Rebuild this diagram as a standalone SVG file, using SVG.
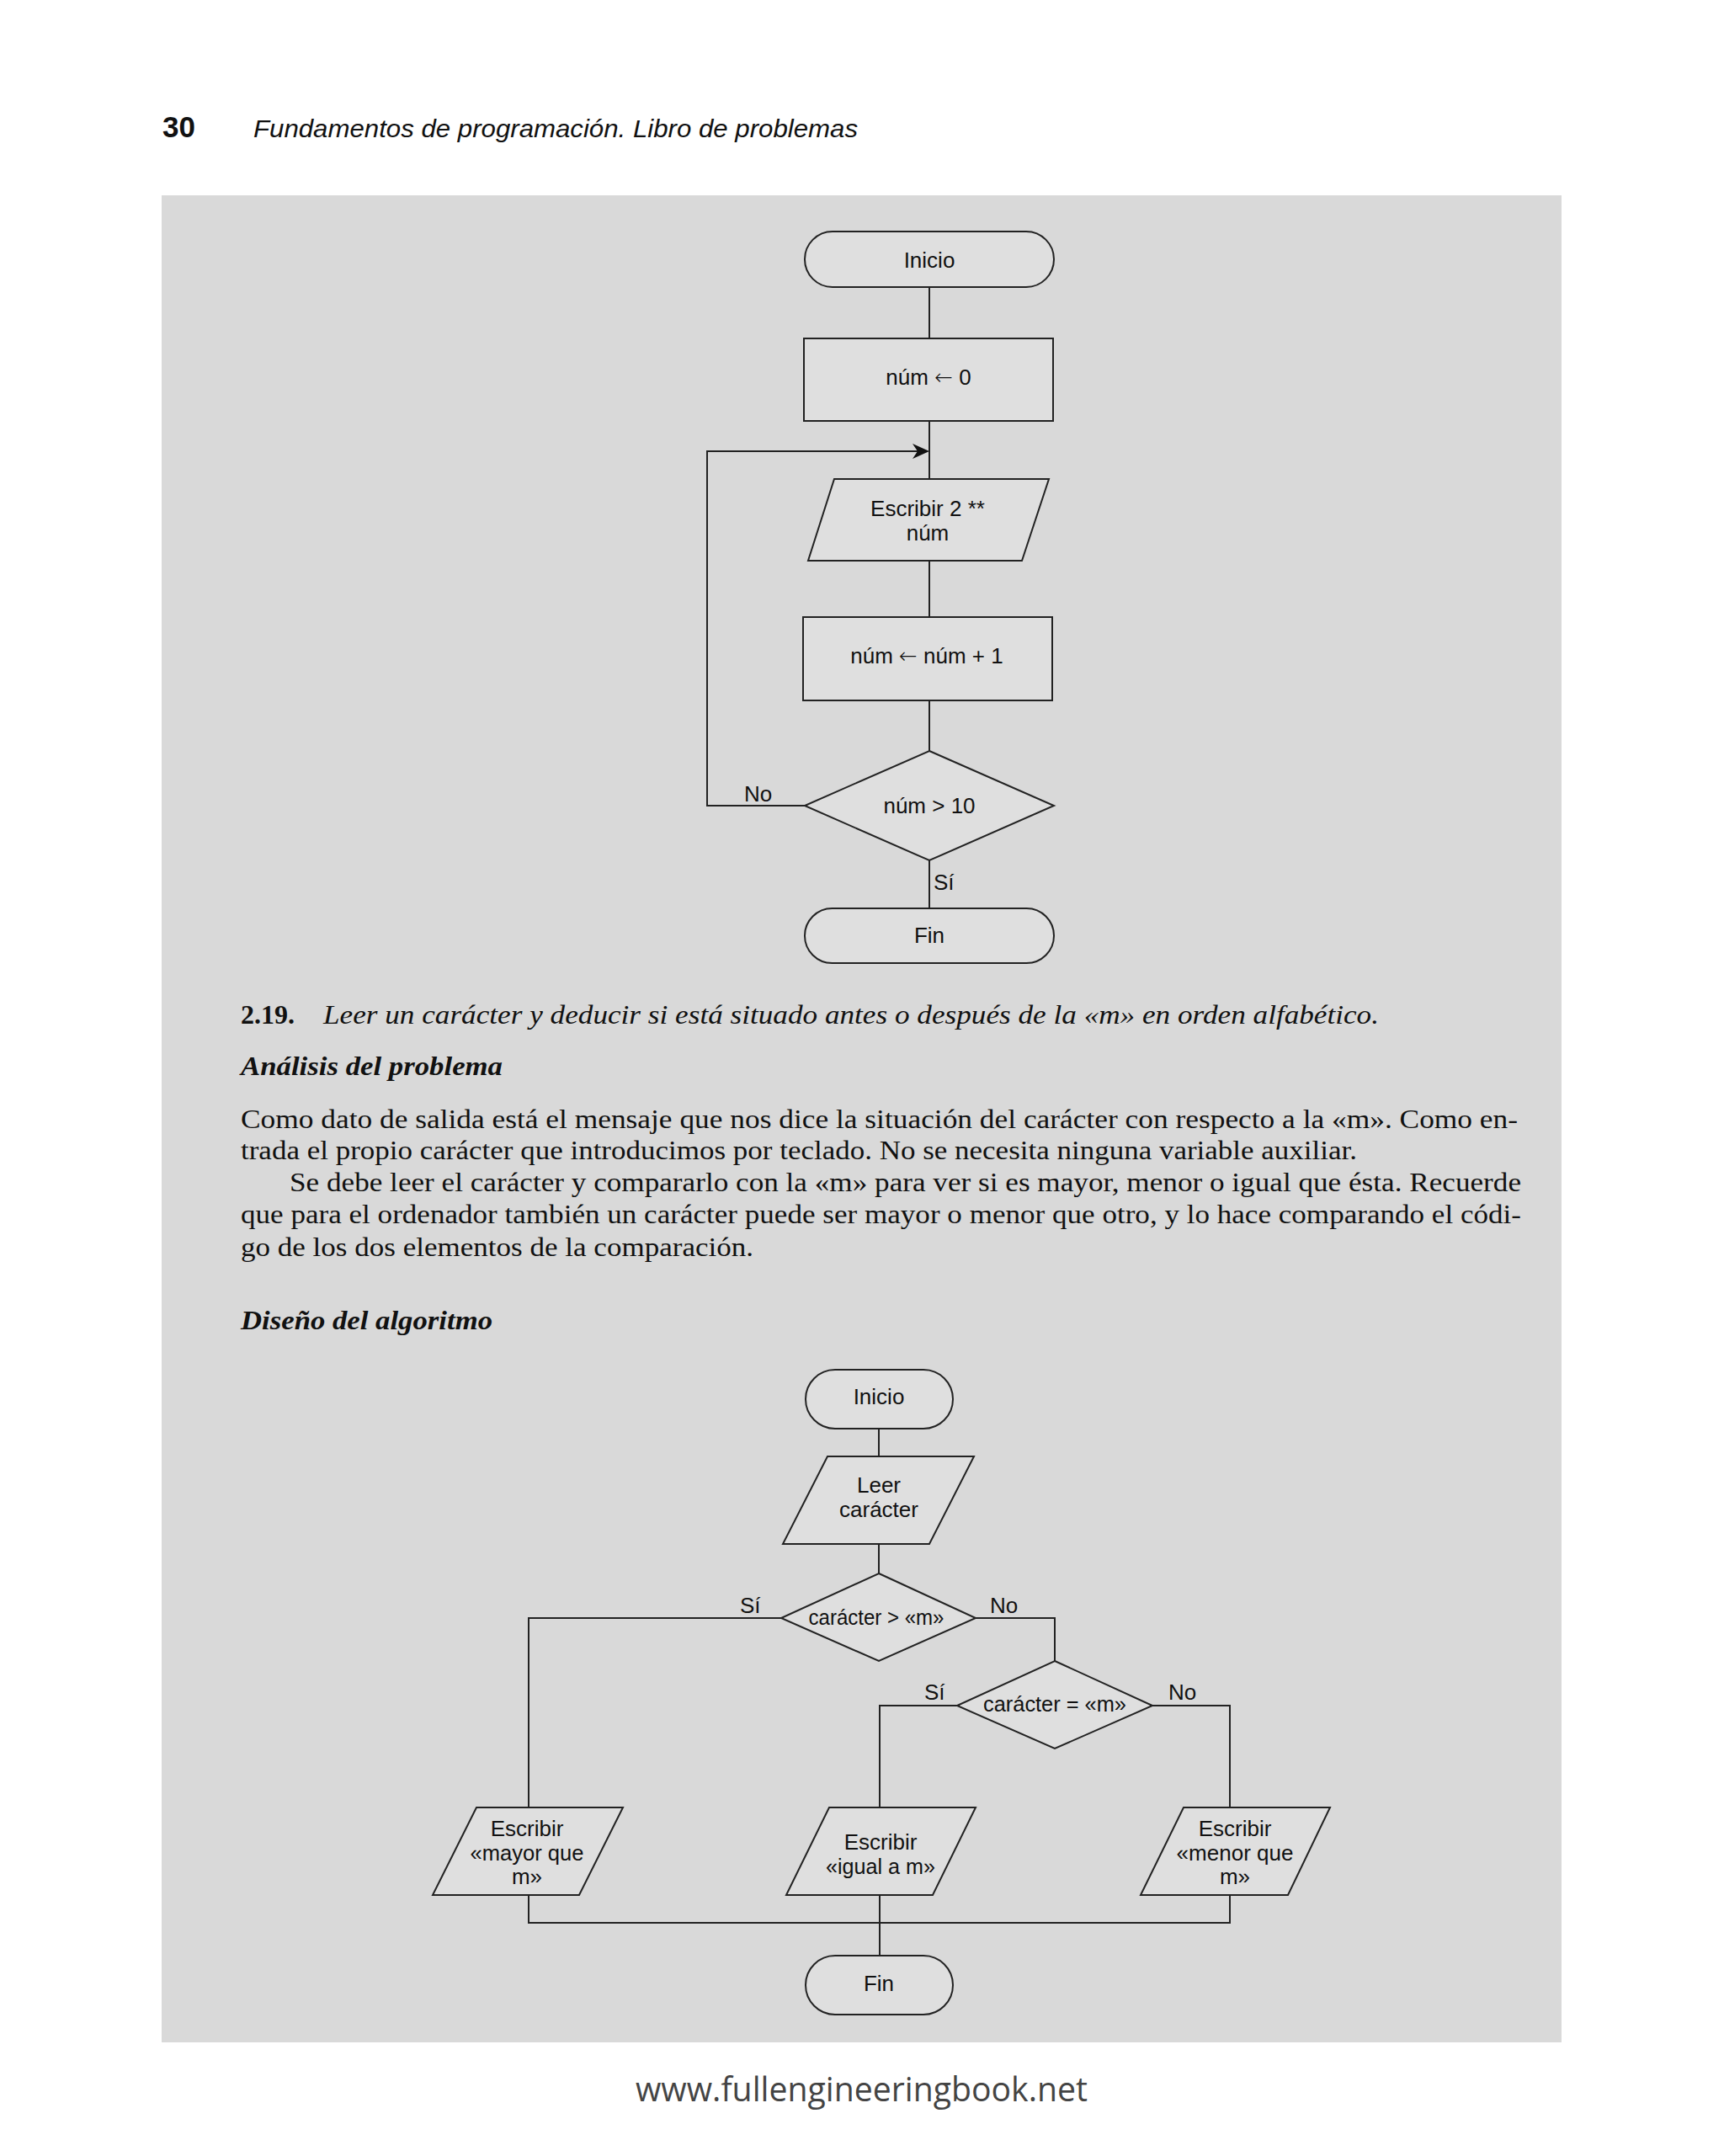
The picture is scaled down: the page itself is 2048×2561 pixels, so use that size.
<svg xmlns="http://www.w3.org/2000/svg" width="2048" height="2561" viewBox="0 0 2048 2561">
<style>
.shape{fill:#dfdfdf;stroke:#222;stroke-width:2}
.conn{fill:none;stroke:#222;stroke-width:2}
.lbl{font-family:"Liberation Sans",Arial,sans-serif;font-size:26px;fill:#111;text-anchor:middle}
.tag{font-family:"Liberation Sans",Arial,sans-serif;font-size:26px;fill:#111}
.arr{font-family:"DejaVu Sans",sans-serif;font-weight:300}
.body{font-family:"Liberation Serif","Times New Roman",serif;font-size:32px;fill:#111}
</style>
<rect x="0" y="0" width="2048" height="2561" fill="#ffffff"/>
<rect x="192" y="232" width="1663" height="2194" fill="#d9d9d9"/>
<text x="193" y="163" font-family="Liberation Sans,Arial,sans-serif" font-weight="bold" font-size="35" fill="#111">30</text>
<text x="301" y="163" font-family="Liberation Sans,Arial,sans-serif" font-style="italic" font-size="29" fill="#111" textLength="718" lengthAdjust="spacingAndGlyphs">Fundamentos de programación. Libro de problemas</text>

<g id="connectors">
<line class="conn" x1="1104" y1="341" x2="1104" y2="402"/>
<line class="conn" x1="1104" y1="500" x2="1104" y2="569"/>
<line class="conn" x1="1104" y1="666" x2="1104" y2="733"/>
<line class="conn" x1="1104" y1="832" x2="1104" y2="892"/>
<line class="conn" x1="1104" y1="1022" x2="1104" y2="1079"/>
<path class="conn" d="M956 957 H840 V536 H1090"/>
<polygon points="1104,536 1084,527 1090,536 1084,545" fill="#111"/>
<line class="conn" x1="1044" y1="1697" x2="1044" y2="1730"/>
<line class="conn" x1="1044" y1="1834" x2="1044" y2="1869"/>
<path class="conn" d="M928 1922 H628 V2147"/>
<path class="conn" d="M1159 1922 H1253 V1973"/>
<path class="conn" d="M1137 2026 H1045 V2147"/>
<path class="conn" d="M1369 2026 H1461 V2147"/>
<path class="conn" d="M628 2251 V2284 H1461 V2251"/>
<path class="conn" d="M1045 2251 V2323"/>
<text class="tag" x="884" y="952">No</text>
<text class="tag" x="1109" y="1057">Sí</text>
<text class="tag" x="879" y="1916">Sí</text>
<text class="tag" x="1176" y="1916">No</text>
<text class="tag" x="1098" y="2019">Sí</text>
<text class="tag" x="1388" y="2019">No</text>
</g>

<g id="d1-inicio"><rect class="shape" x="956" y="275" width="296" height="66" rx="33"/><text class="lbl" x="1104" y="318">Inicio</text></g>
<g id="d1-init"><rect class="shape" x="955" y="402" width="296" height="98"/><text class="lbl" x="1103" y="457">núm <tspan class="arr">←</tspan> 0</text></g>
<g id="d1-write"><polygon class="shape" points="991,569 1246,569 1214,666 960,666"/><text class="lbl" x="1102" y="613">Escribir 2 **</text><text class="lbl" x="1102" y="642">núm</text></g>
<g id="d1-inc"><rect class="shape" x="954" y="733" width="296" height="99"/><text class="lbl" x="1101" y="788">núm <tspan class="arr">←</tspan> núm + 1</text></g>
<g id="d1-cond"><polygon class="shape" points="1104,892 1252,957 1104,1022 956,957"/><text class="lbl" x="1104" y="966">núm &gt; 10</text></g>
<g id="d1-fin"><rect class="shape" x="956" y="1079" width="296" height="65" rx="32.5"/><text class="lbl" x="1104" y="1120">Fin</text></g>

<g id="text-section">
<text class="body" x="286" y="1216"><tspan font-weight="bold">2.19.</tspan></text>
<text class="body" x="384" y="1216" font-style="italic" textLength="1254" lengthAdjust="spacingAndGlyphs">Leer un carácter y deducir si está situado antes o después de la «m» en orden alfabético.</text>
<text class="body" x="286" y="1277" font-weight="bold" font-style="italic" textLength="311" lengthAdjust="spacingAndGlyphs">Análisis del problema</text>
<text class="body" x="286" y="1340" textLength="1517" lengthAdjust="spacingAndGlyphs">Como dato de salida está el mensaje que nos dice la situación del carácter con respecto a la «m». Como en-</text>
<text class="body" x="286" y="1377" textLength="1326" lengthAdjust="spacingAndGlyphs">trada el propio carácter que introducimos por teclado. No se necesita ninguna variable auxiliar.</text>
<text class="body" x="344" y="1415" textLength="1463" lengthAdjust="spacingAndGlyphs">Se debe leer el carácter y compararlo con la «m» para ver si es mayor, menor o igual que ésta. Recuerde</text>
<text class="body" x="286" y="1453" textLength="1521" lengthAdjust="spacingAndGlyphs">que para el ordenador también un carácter puede ser mayor o menor que otro, y lo hace comparando el códi-</text>
<text class="body" x="286" y="1492" textLength="609" lengthAdjust="spacingAndGlyphs">go de los dos elementos de la comparación.</text>
<text class="body" x="286" y="1579" font-weight="bold" font-style="italic" textLength="299" lengthAdjust="spacingAndGlyphs">Diseño del algoritmo</text>
</g>

<g id="d2-inicio"><rect class="shape" x="957" y="1627" width="175" height="70" rx="35"/><text class="lbl" x="1044" y="1668">Inicio</text></g>
<g id="d2-read"><polygon class="shape" points="983,1730 1157,1730 1104,1834 930,1834"/><text class="lbl" x="1044" y="1773">Leer</text><text class="lbl" x="1044" y="1802">carácter</text></g>
<g id="d2-cond1"><polygon class="shape" points="1044,1869 1159,1922 1044,1973 928,1922"/><text class="lbl" x="1041" y="1930" textLength="161" lengthAdjust="spacingAndGlyphs">carácter &gt; «m»</text></g>
<g id="d2-cond2"><polygon class="shape" points="1253,1973 1369,2026 1253,2077 1137,2026"/><text class="lbl" x="1253" y="2033" textLength="170" lengthAdjust="spacingAndGlyphs">carácter = «m»</text></g>
<g id="d2-mayor"><polygon class="shape" points="566,2147 740,2147 688,2251 514,2251"/><text class="lbl" x="626" y="2181">Escribir</text><text class="lbl" x="626" y="2210" textLength="135" lengthAdjust="spacingAndGlyphs">«mayor que</text><text class="lbl" x="626" y="2238">m»</text></g>
<g id="d2-igual"><polygon class="shape" points="985,2147 1159,2147 1108,2251 934,2251"/><text class="lbl" x="1046" y="2197">Escribir</text><text class="lbl" x="1046" y="2226" textLength="130" lengthAdjust="spacingAndGlyphs">«igual a m»</text></g>
<g id="d2-menor"><polygon class="shape" points="1406,2147 1580,2147 1530,2251 1355,2251"/><text class="lbl" x="1467" y="2181">Escribir</text><text class="lbl" x="1467" y="2210" textLength="139" lengthAdjust="spacingAndGlyphs">«menor que</text><text class="lbl" x="1467" y="2238">m»</text></g>
<g id="d2-fin"><rect class="shape" x="957" y="2323" width="175" height="70" rx="35"/><text class="lbl" x="1044" y="2365">Fin</text></g>

<text x="755" y="2496" font-family="Open Sans,Liberation Sans,sans-serif" font-size="40" fill="#444" textLength="537" lengthAdjust="spacingAndGlyphs">www.fullengineeringbook.net</text>
</svg>
